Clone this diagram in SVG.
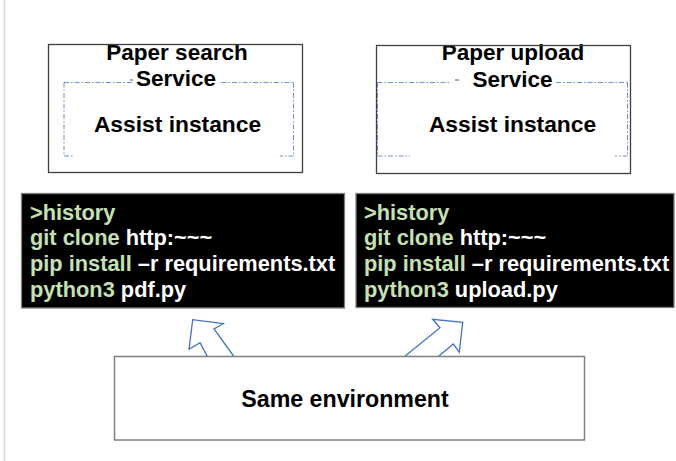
<svg xmlns="http://www.w3.org/2000/svg" width="676" height="461" viewBox="0 0 676 461">
  <defs>
    <style>
      .frame { fill: none; stroke: #404040; stroke-width: 1.3; }
      .inst { fill: none; stroke: #6f8fd2; stroke-width: 1; stroke-dasharray: 5 2 1.5 2; }
      .title { font-family: "Liberation Sans", Arial, sans-serif; font-weight: bold; font-size: 22.5px; fill: #000; text-anchor: middle; }
      .inst-label { font-family: "Liberation Sans", Arial, sans-serif; font-weight: bold; font-size: 22.8px; fill: #000; text-anchor: middle; }
      .term { fill: #000; stroke: #7f7f7f; stroke-width: 1.3; }
      .cmd { font-family: "Liberation Sans", Arial, sans-serif; font-weight: bold; font-size: 21.8px; fill: #fff; }
      .kw { fill: #c5e0b4; }
      .env { fill: #fff; stroke: #7f7f7f; stroke-width: 1.5; }
      .env-label { font-family: "Liberation Sans", Arial, sans-serif; font-weight: bold; font-size: 23.2px; fill: #000; text-anchor: middle; }
      .arrow { fill: #fff; stroke: #4472c4; stroke-width: 1.3; stroke-linejoin: miter; }
      .tick { stroke: #555; stroke-width: 1; }
    </style>
  </defs>

  <rect width="676" height="461" fill="#fff"/>
  <line x1="4.5" y1="0" x2="4.5" y2="461" stroke="#d9d9d9" stroke-width="1.5"/>

  <!-- Paper search service -->
  <g id="search-service">
    <path class="inst" d="M64 82.5 H293.5 M64 82.5 V156 H73 M293.5 82.5 V156 H280"/>
    <rect x="133" y="68" width="86" height="21" fill="#fff"/>
    <line class="tick" x1="130" y1="80" x2="133" y2="80"/>
    <text class="title" x="177" y="59.5">Paper search</text>
    <text class="title" x="176" y="86">Service</text>
    <text class="inst-label" x="177.5" y="131.5">Assist instance</text>
    <rect class="frame" x="48.5" y="44.5" width="254" height="128"/>
  </g>

  <!-- Paper upload service -->
  <g id="upload-service">
    <path class="inst" d="M377.5 82.5 H451 M556 82.5 H627.5 M377.5 82.5 V156 H410 M627.5 82.5 V156 H615"/>
    <rect x="462" y="68" width="92" height="21" fill="#fff"/>
    <line class="tick" x1="455" y1="80" x2="459" y2="80"/>
    <text class="title" x="513" y="59.5">Paper upload</text>
    <text class="title" x="512.5" y="86.5">Service</text>
    <text class="inst-label" x="512.5" y="131.5">Assist instance</text>
    <rect class="frame" x="376.5" y="45.5" width="254" height="128"/>
  </g>

  <!-- Shell history, search side -->
  <g id="search-history">
    <rect class="term" x="21.5" y="193.5" width="323" height="114.5"/>
    <text class="cmd" x="30" y="219.5"><tspan class="kw">&gt;history</tspan></text>
    <text class="cmd" x="30" y="245.3"><tspan class="kw">git clone</tspan> http:~~~</text>
    <text class="cmd" x="30" y="271"><tspan class="kw">pip install</tspan> –r requirements.txt</text>
    <text class="cmd" x="30" y="296.8"><tspan class="kw">python3</tspan> pdf.py</text>
  </g>

  <!-- Shell history, upload side -->
  <g id="upload-history">
    <rect class="term" x="356" y="193.5" width="318" height="114"/>
    <text class="cmd" x="364" y="219.5"><tspan class="kw">&gt;history</tspan></text>
    <text class="cmd" x="364" y="245.3"><tspan class="kw">git clone</tspan> http:~~~</text>
    <text class="cmd" x="364" y="271"><tspan class="kw">pip install</tspan> –r requirements.txt</text>
    <text class="cmd" x="364" y="296.8"><tspan class="kw">python3</tspan> upload.py</text>
  </g>

  <!-- Block arrows from the shared environment -->
  <g id="connectors">
    <polyline class="arrow" points="207.7,357 200,342.7 189,349.3 192.7,319.7 223.3,323.7 214,329 234.3,357"/>
    <polyline class="arrow" points="404,357 440,327.7 432.7,319.3 462.7,322.3 459.3,352.3 453.3,344 437.7,357"/>
  </g>

  <!-- Shared environment -->
  <g id="same-environment">
    <rect class="env" x="114.5" y="356.5" width="470" height="83.5"/>
    <text class="env-label" x="345" y="406.5">Same environment</text>
  </g>
</svg>
